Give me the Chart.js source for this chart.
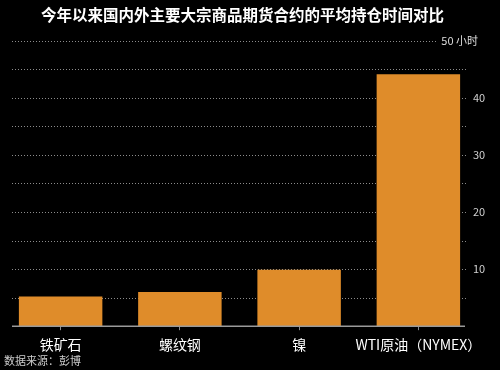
<!DOCTYPE html>
<html>
<head>
<meta charset="utf-8">
<script src="https://cdn.jsdelivr.net/npm/chart.js@4"></script>
<style>
  html, body { margin: 0; padding: 0; background: #000; }
  #wrap { width: 500px; height: 370px; }
</style>
</head>
<body>
<div id="wrap"><canvas id="chart"></canvas></div>
<script>
// values
var categories = ["铁矿石", "螺纹钢", "镍", "WTI原油（NYMEX）"];
var hours = [5.2, 6.0, 9.9, 44.1];
var titleText = "今年以来国内外主要大宗商品期货合约的平均持仓时间对比";
var unitLabel = "50 小时";
var sourceText = "数据来源：彭博";

var cjk = "'Noto Sans CJK SC', 'Noto Sans', sans-serif";

// black background, dotted gridlines, baseline, axis labels and notes
var decor = {
    id: "decor",
    beforeDraw: function (chart) {
        var c = chart.ctx;
        c.save();
        c.fillStyle = "#000";
        c.fillRect(0, 0, chart.width, chart.height);
        c.restore();
    },
    beforeDatasetsDraw: function (chart) {
        var c = chart.ctx, y = chart.scales.y;
        c.save();
        c.strokeStyle = "rgba(175,175,175,0.8)";
        c.lineWidth = 1;
        c.setLineDash([1, 2]);
        y.ticks.forEach(function (t) {
            if (t.value === 0) return;
            var py = Math.round(y.getPixelForValue(t.value)) + 0.5;
            c.beginPath();
            c.moveTo(12, py);
            c.lineTo(467, py);
            c.stroke();
        });
        c.restore();
    },
    afterDatasetsDraw: function (chart) {
        var c = chart.ctx, y = chart.scales.y;
        var py0 = y.getPixelForValue(0);
        c.save();
        c.strokeStyle = "#9a9a9a";
        c.lineWidth = 1.5;
        c.beginPath();
        c.moveTo(12, py0);
        c.lineTo(465, py0);
        c.stroke();
        // right-hand value labels
        c.fillStyle = "#cfcfcf";
        c.font = "11px " + cjk;
        c.textAlign = "left";
        c.textBaseline = "middle";
        y.ticks.forEach(function (t) {
            if (t.value > 0 && t.value < 50 && t.value % 10 === 0) {
                c.fillText(String(t.value), 473, y.getPixelForValue(t.value));
            }
        });
        // unit label on the top gridline
        var py50 = y.getPixelForValue(50);
        c.fillStyle = "#000";
        c.fillRect(437, py50 - 4, 63, 8);
        c.fillStyle = "#dddddd";
        c.textAlign = "right";
        c.fillText(unitLabel, 478, py50);
        // source note
        c.textAlign = "left";
        c.fillStyle = "#cccccc";
        c.fillText(sourceText, 4, 361);
        c.restore();
    }
};

new Chart(document.getElementById("chart"), {
    type: "bar",
    data: {
        labels: categories,
        datasets: [{
            data: hours,
            backgroundColor: "#df8c2a",
            borderWidth: 0,
            barPercentage: 0.7,
            categoryPercentage: 1.0
        }]
    },
    options: {
        responsive: true,
        maintainAspectRatio: false,
        animation: false,
        layout: { padding: { left: 1, right: 16, top: 0, bottom: 11 } },
        plugins: {
            legend: { display: false },
            tooltip: { enabled: false },
            title: {
                display: true,
                text: titleText,
                color: "#ffffff",
                font: { family: cjk, size: 15.5, weight: "bold" },
                padding: { top: 6, bottom: 16 }
            }
        },
        scales: {
            x: {
                offset: true,
                grid: {
                    offset: false,
                    drawOnChartArea: false,
                    drawTicks: true,
                    tickLength: 4,
                    color: "#8a8a8a"
                },
                border: { display: false },
                ticks: {
                    color: "#ffffff",
                    font: { family: cjk, size: 14 },
                    padding: 6,
                    maxRotation: 0,
                    autoSkip: false
                }
            },
            y: {
                position: "right",
                min: 0,
                max: 50,
                afterFit: function (s) { s.width = 6; },
                grid: { display: false, drawTicks: false },
                border: { display: false },
                ticks: { stepSize: 5, display: false }
            }
        }
    },
    plugins: [decor]
});
</script>
</body>
</html>
